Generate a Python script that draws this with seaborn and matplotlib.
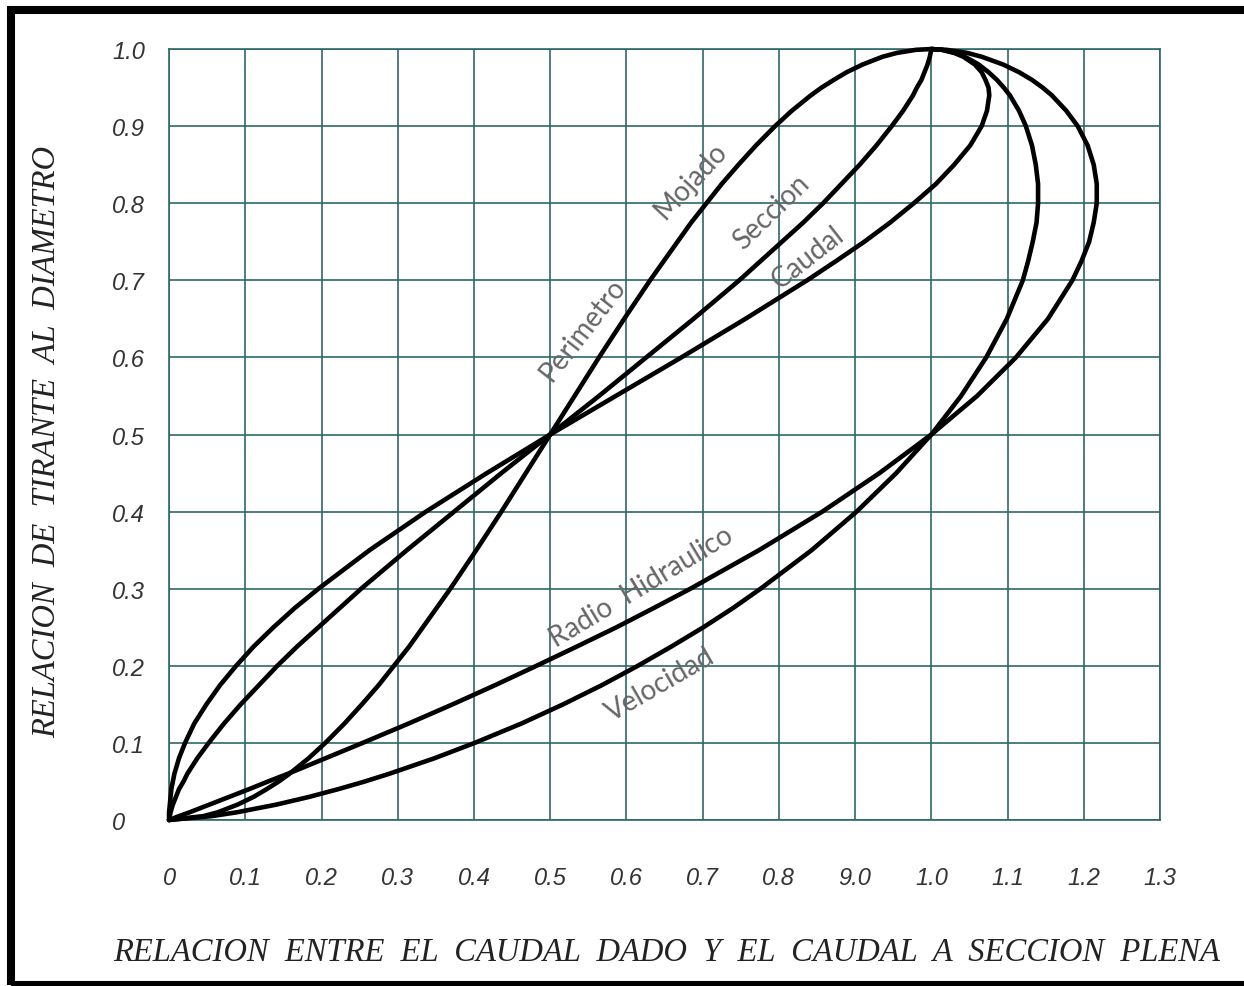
import numpy as np
import pandas as pd
import matplotlib
matplotlib.use("Agg")
import matplotlib.pyplot as plt
from matplotlib.patches import Rectangle
import seaborn as sns

# relacion de tirante al diametro (eje y)
tirante = [0, 0.005, 0.01, 0.02, 0.03, 0.04, 0.05, 0.06, 0.08, 0.1,
           0.125, 0.15, 0.175, 0.2, 0.225, 0.25, 0.275, 0.3,
           0.35, 0.4, 0.45, 0.5, 0.55, 0.6, 0.65, 0.7,
           0.725, 0.75, 0.775, 0.8, 0.825, 0.85, 0.875, 0.9,
           0.92, 0.94, 0.95, 0.96, 0.97, 0.98, 0.99, 0.995, 0.999, 1.0]

# relaciones (eje x) para cada curva
perimetro = [0, 0.045, 0.064, 0.090, 0.111, 0.128, 0.144, 0.158, 0.183, 0.205,
             0.230, 0.253, 0.275, 0.295, 0.315, 0.333, 0.351, 0.369,
             0.403, 0.436, 0.468, 0.5, 0.532, 0.564, 0.597, 0.631,
             0.649, 0.667, 0.685, 0.705, 0.725, 0.747, 0.770, 0.795,
             0.817, 0.842, 0.856, 0.872, 0.889, 0.910, 0.936, 0.955, 0.980, 1.0]
seccion = [0, 0.001, 0.002, 0.005, 0.009, 0.013, 0.019, 0.024, 0.037, 0.052,
           0.072, 0.094, 0.118, 0.142, 0.168, 0.196, 0.224, 0.252,
           0.312, 0.374, 0.436, 0.5, 0.564, 0.626, 0.688, 0.748,
           0.776, 0.804, 0.832, 0.858, 0.882, 0.906, 0.928, 0.948,
           0.963, 0.976, 0.981, 0.987, 0.991, 0.995, 0.998, 0.999, 1.0, 1.0]
caudal = [0, 0.000, 0.000, 0.001, 0.002, 0.003, 0.005, 0.007, 0.013, 0.021,
          0.033, 0.049, 0.067, 0.088, 0.111, 0.137, 0.165, 0.196,
          0.263, 0.337, 0.417, 0.5, 0.586, 0.672, 0.756, 0.837,
          0.875, 0.912, 0.946, 0.977, 1.006, 1.030, 1.051, 1.066,
          1.073, 1.076, 1.075, 1.071, 1.066, 1.057, 1.042, 1.030, 1.014, 1.0]
radio = [0, 0.013, 0.027, 0.053, 0.079, 0.105, 0.130, 0.156, 0.205, 0.254,
         0.314, 0.372, 0.428, 0.482, 0.535, 0.587, 0.636, 0.684,
         0.774, 0.857, 0.932, 1.0, 1.060, 1.111, 1.153, 1.185,
         1.197, 1.207, 1.213, 1.217, 1.217, 1.213, 1.205, 1.192,
         1.177, 1.158, 1.146, 1.132, 1.115, 1.094, 1.066, 1.047, 1.020, 1.0]
velocidad = [0, 0.056, 0.089, 0.141, 0.184, 0.222, 0.257, 0.289, 0.348, 0.401,
             0.462, 0.517, 0.568, 0.615, 0.659, 0.701, 0.740, 0.776,
             0.843, 0.902, 0.954, 1.0, 1.039, 1.072, 1.099, 1.120,
             1.127, 1.133, 1.138, 1.140, 1.140, 1.137, 1.132, 1.124,
             1.115, 1.103, 1.095, 1.086, 1.075, 1.062, 1.044, 1.031, 1.014, 1.0]

x_ticks = [0, 0.1, 0.2, 0.3, 0.4, 0.5, 0.6, 0.7, 0.8, 0.9, 1.0, 1.1, 1.2, 1.3]
x_labels = ["0", "0.1", "0.2", "0.3", "0.4", "0.5", "0.6", "0.7", "0.8",
            "9.0", "1.0", "1.1", "1.2", "1.3"]
y_ticks = [0, 0.1, 0.2, 0.3, 0.4, 0.5, 0.6, 0.7, 0.8, 0.9, 1.0]
y_labels = ["0", "0.1", "0.2", "0.3", "0.4", "0.5", "0.6", "0.7", "0.8",
            "0.9", "1.0"]

curvas = {"Perimetro": perimetro, "Seccion": seccion, "Caudal": caudal,
          "Radio": radio, "Velocidad": velocidad}
df = pd.concat([pd.DataFrame({"rel": v, "tirante": tirante, "curva": k})
                for k, v in curvas.items()], ignore_index=True)

sns.set_theme(style="white")
plt.rcParams["font.family"] = ["DejaVu Sans"]

grid_color = "#2d6767"
fig = plt.figure(figsize=(12.44, 9.87), dpi=100)
ax = fig.add_axes([0.1359, 0.1682, 0.7966, 0.7811])

sns.lineplot(data=df, x="rel", y="tirante", hue="curva",
             palette=["black"] * 5, sort=False, estimator=None,
             legend=False, linewidth=3.3, ax=ax, zorder=3)
for ln in ax.lines:
    ln.set_clip_on(False)
    ln.set_solid_capstyle("round")
    ln.set_solid_joinstyle("round")

ax.set_xlim(0, 1.3)
ax.set_ylim(0, 1.0)
ax.set_xticks(x_ticks)
ax.set_xticklabels(x_labels)
ax.set_yticks(y_ticks)
ax.set_yticklabels(y_labels, ha="left")
ax.grid(True, color=grid_color, linewidth=1.2)
for sp in ax.spines.values():
    sp.set_color(grid_color)
    sp.set_linewidth(1.2)
ax.tick_params(axis="x", length=0, pad=33)
ax.tick_params(axis="y", length=0, pad=41)
for lab in ax.get_xticklabels() + ax.get_yticklabels():
    lab.set_fontfamily("Liberation Sans")
    lab.set_fontstyle("italic")
    lab.set_fontsize(17)
    lab.set_color("#333333")
ax.set_xlabel("")
ax.set_ylabel("")

# etiquetas de las curvas
txt = dict(ha="center", va="center", rotation_mode="anchor",
           color="#666666", fontsize=20, family="Lato", fontweight="normal")
ax.text(0.543, 0.637, "Perimetro", rotation=52, **txt)
ax.text(0.685, 0.830, "Mojado", rotation=47, **txt)
ax.text(0.790, 0.789, "Seccion", rotation=44, **txt)
ax.text(0.838, 0.730, "Caudal", rotation=38, **txt)
ax.text(0.620, 0.303, "Radio  Hidraulico", rotation=31, **txt)
ax.text(0.644, 0.176, "Velocidad", rotation=30, **txt)

lab_font = dict(family="Liberation Serif", style="italic", fontsize=23.5,
                color="#222222")
fig.text(0.536, 0.035, "RELACION  ENTRE  EL  CAUDAL  DADO  Y  EL  CAUDAL  A  SECCION  PLENA",
         ha="center", va="center", **lab_font)
fig.text(0.038, 0.552, "RELACION  DE  TIRANTE  AL  DIAMETRO", rotation=90,
         ha="center", va="center", **lab_font)

# marco negro
fig.add_artist(Rectangle((11 / 1244, 1 / 987), 1.004, 0.9878,
                         transform=fig.transFigure, fill=False,
                         edgecolor="black", linewidth=5.8))

fig.savefig("out.png", dpi=100)
